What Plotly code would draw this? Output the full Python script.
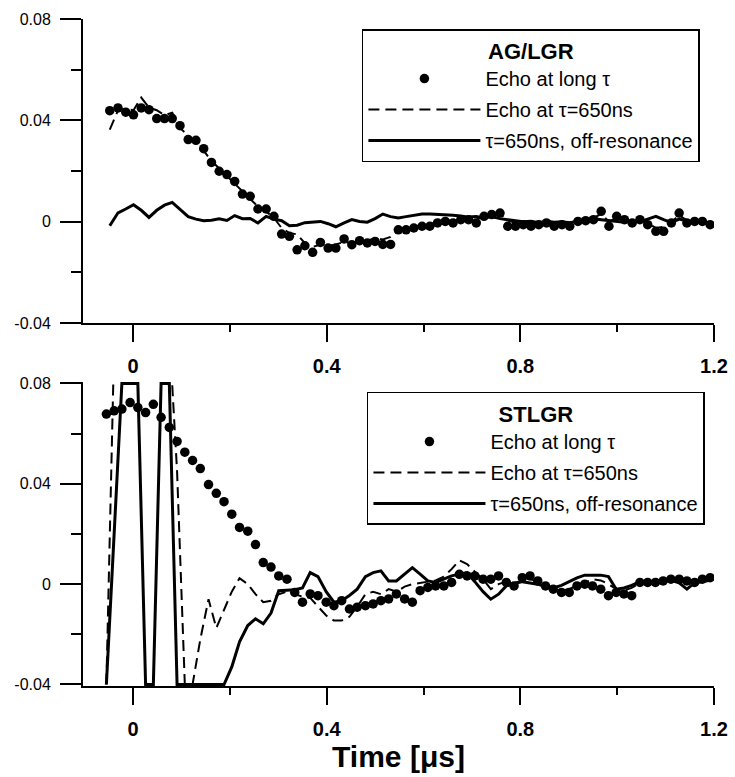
import plotly.graph_objects as go
from plotly.subplots import make_subplots

t_top = [-0.048, -0.031, -0.015, 0.001, 0.017, 0.033, 0.049, 0.065, 0.081, 0.097,
         0.114, 0.130, 0.146, 0.162, 0.178, 0.194, 0.210, 0.226, 0.242, 0.258,
         0.275, 0.291, 0.307, 0.323, 0.339, 0.355, 0.371, 0.387, 0.403, 0.419,
         0.436, 0.452, 0.468, 0.484, 0.500, 0.516, 0.532, 0.548, 0.564, 0.580,
         0.597, 0.613, 0.629, 0.645, 0.661, 0.677, 0.693, 0.709, 0.725, 0.741,
         0.758, 0.774, 0.790, 0.806, 0.822, 0.838, 0.854, 0.870, 0.886, 0.902,
         0.919, 0.935, 0.951, 0.967, 0.983, 0.999, 1.015, 1.031, 1.047, 1.063,
         1.080, 1.096, 1.112, 1.128, 1.144, 1.160, 1.176, 1.192]
ag_long = [0.0438, 0.0449, 0.0432, 0.0422, 0.0449, 0.0442, 0.0407, 0.0407, 0.0407, 0.0379,
           0.0324, 0.0321, 0.0288, 0.0234, 0.0199, 0.0186, 0.0159, 0.0109, 0.0100, 0.0050,
           0.0050, 0.0021, -0.0049, -0.0058, -0.0111, -0.0095, -0.0121, -0.0082, -0.0104, -0.0104,
           -0.0068, -0.0091, -0.0075, -0.0084, -0.0078, -0.0090, -0.0090, -0.0032, -0.0032, -0.0025,
           -0.0018, -0.0018, -0.0005, 0.0001, -0.0005, 0.0008, 0.0008, -0.0005, 0.0021, 0.0028,
           0.0034, -0.0018, -0.0018, -0.0012, -0.0018, -0.0012, -0.0005, -0.0018, -0.0012, -0.0018,
           0.0001, 0.0004, 0.0008, 0.0041, -0.0018, 0.0021, 0.0008, -0.0005, 0.0008, -0.0012,
           -0.0038, -0.0038, -0.0005, 0.0034, -0.0005, 0.0001, 0.0001, -0.0012]
ag_650 = [0.0363, 0.0440, 0.0445, 0.0440, 0.0490, 0.0450, 0.0440, 0.0420, 0.0430, 0.0370,
          0.0340, 0.0310, 0.0280, 0.0240, 0.0210, 0.0180, 0.0150, 0.0120, 0.0090, 0.0060,
          0.0040, 0.0015, -0.0025, -0.0045, -0.0050, -0.0085, -0.0100, -0.0090, -0.0095, -0.0090,
          -0.0080, -0.0085, -0.0080, -0.0075, -0.0065, -0.0070, -0.0060, -0.0030, -0.0025, -0.0020,
          -0.0015, -0.0010, 0.0000, 0.0005, 0.0000, 0.0010, 0.0015, 0.0010, 0.0020, 0.0025,
          0.0030, 0.0005, -0.0005, -0.0005, -0.0010, -0.0005, 0.0000, -0.0010, -0.0005, -0.0010,
          0.0005, 0.0010, 0.0015, 0.0030, 0.0000, 0.0015, 0.0005, 0.0000, 0.0005, -0.0005,
          -0.0025, -0.0020, 0.0000, 0.0025, 0.0005, 0.0000, 0.0005, -0.0005]
ag_off = [-0.0016, 0.0035, 0.0050, 0.0067, 0.0045, 0.0017, 0.0045, 0.0065, 0.0076, 0.0050,
          0.0020, 0.0010, 0.0004, 0.0006, 0.0011, 0.0005, 0.0024, 0.0012, 0.0013, -0.0005,
          0.0021, 0.0010, 0.0004, -0.0016, -0.0014, -0.0004, -0.0002, 0.0001, -0.0008, -0.0020,
          -0.0005, 0.0008, 0.0001, -0.0002, 0.0012, 0.0030, 0.0020, 0.0015, 0.0020, 0.0026,
          0.0030, 0.0030, 0.0029, 0.0028, 0.0025, 0.0022, 0.0018, 0.0020, 0.0015, 0.0020,
          0.0012, 0.0008, 0.0004, 0.0000, 0.0002, -0.0004, 0.0002, -0.0002, 0.0000, -0.0004,
          0.0002, 0.0006, 0.0012, 0.0008, 0.0004, 0.0000, -0.0002, 0.0002, 0.0000, 0.0010,
          0.0021, 0.0008, -0.0004, 0.0010, 0.0004, -0.0004, 0.0002, -0.0008]
t_bot = [-0.055, -0.039, -0.023, -0.006, 0.010, 0.026, 0.042, 0.058, 0.075, 0.091,
         0.107, 0.123, 0.139, 0.156, 0.172, 0.188, 0.204, 0.220, 0.237, 0.253,
         0.269, 0.285, 0.301, 0.318, 0.334, 0.350, 0.366, 0.382, 0.399, 0.415,
         0.431, 0.447, 0.463, 0.480, 0.496, 0.512, 0.528, 0.544, 0.561, 0.577,
         0.593, 0.609, 0.625, 0.642, 0.658, 0.674, 0.690, 0.706, 0.723, 0.739,
         0.755, 0.771, 0.787, 0.804, 0.820, 0.836, 0.852, 0.868, 0.885, 0.901,
         0.917, 0.933, 0.949, 0.966, 0.982, 0.998, 1.014, 1.030, 1.047, 1.063,
         1.079, 1.095, 1.111, 1.128, 1.144, 1.160, 1.176, 1.192]
st_long = [0.0678, 0.0691, 0.0698, 0.0724, 0.0704, 0.0684, 0.0717, 0.0665, 0.0625, 0.0569,
           0.0526, 0.0493, 0.0461, 0.0397, 0.0362, 0.0329, 0.0279, 0.0226, 0.0211, 0.0158,
           0.0086, 0.0068, 0.0033, 0.0020, -0.0033, -0.0072, -0.0039, -0.0046, -0.0072, -0.0086,
           -0.0066, -0.0099, -0.0092, -0.0086, -0.0079, -0.0066, -0.0059, -0.0039, -0.0059, -0.0072,
           -0.0026, -0.0013, -0.0007, -0.0007, 0.0007, 0.0039, 0.0033, 0.0033, 0.0020, 0.0020,
           0.0033, 0.0007, -0.0007, 0.0026, 0.0033, 0.0013, -0.0007, -0.0020, -0.0033, -0.0033,
           -0.0007, 0.0000, -0.0007, -0.0020, -0.0046, -0.0033, -0.0039, -0.0046, 0.0007, 0.0007,
           0.0007, 0.0013, 0.0020, 0.0020, 0.0013, 0.0007, 0.0020, 0.0026]
st_650 = [-0.0400, 0.0950, 0.1200, 0.1200, 0.1200, 0.1200, 0.1200, 0.1200, 0.1000, 0.0450,
          -0.0400, -0.0400, -0.0220, -0.0060, -0.0175, -0.0100, -0.0030, 0.0024, 0.0000, -0.0040,
          -0.0072, -0.0066, -0.0040, -0.0030, -0.0040, -0.0050, -0.0055, -0.0090, -0.0125, -0.0145,
          -0.0145, -0.0130, -0.0090, -0.0040, -0.0030, -0.0040, -0.0020, -0.0030, -0.0010, 0.0000,
          0.0005, 0.0010, 0.0015, 0.0030, 0.0060, 0.0095, 0.0080, 0.0050, 0.0020, -0.0020,
          0.0000, 0.0010, 0.0005, 0.0015, 0.0020, 0.0010, 0.0000, -0.0015, -0.0025, -0.0020,
          -0.0005, 0.0005, 0.0020, 0.0015, 0.0000, -0.0020, -0.0025, -0.0015, 0.0005, 0.0010,
          0.0010, 0.0015, 0.0015, 0.0010, 0.0005, 0.0010, 0.0015, 0.0015]
st_off = [-0.0400, 0.0200, 0.0800, 0.0800, 0.0800, -0.0400, -0.0400, 0.0800, 0.0800, -0.0400,
          -0.0400, -0.0400, -0.0400, -0.0400, -0.0400, -0.0400, -0.0330, -0.0230, -0.0165, -0.0138,
          -0.0158, -0.0115, -0.0026, -0.0024, -0.0022, -0.0015, 0.0046, 0.0030, -0.0030, -0.0072,
          -0.0066, -0.0045, -0.0020, 0.0030, 0.0046, 0.0053, 0.0013, 0.0013, 0.0040, 0.0066,
          0.0040, 0.0013, 0.0007, 0.0020, 0.0033, 0.0040, 0.0046, 0.0010, -0.0030, -0.0060,
          -0.0040, -0.0007, 0.0000, 0.0010, 0.0005, 0.0000, -0.0010, -0.0015, -0.0005, 0.0010,
          0.0025, 0.0036, 0.0036, 0.0036, 0.0030, -0.0020, -0.0015, -0.0005, 0.0010, 0.0005,
          0.0005, 0.0010, 0.0015, 0.0005, -0.0020, 0.0005, 0.0010, 0.0015]

panel_titles = ["AG/LGR", "STLGR"]
series_names = ["Echo at long \u03c4", "Echo at \u03c4=650ns", "\u03c4=650ns, off-resonance"]
x_ticks = [0, 0.4, 0.8, 1.2]
x_ticklabels = ["0", "0.4", "0.8", "1.2"]
x_minor = [0.2, 0.6, 1.0]
y_ticks = [-0.04, 0, 0.04, 0.08]
y_ticklabels = ["-0.04", "0", "0.04", "0.08"]
y_minor = [-0.02, 0.02, 0.06]

FONT = "Liberation Sans, Arial, Helvetica, sans-serif"
fig = make_subplots(rows=2, cols=1)

panels = [
    (t_top, ag_long, ag_650, ag_off, "legend"),
    (t_bot, st_long, st_650, st_off, "legend2"),
]
for r, (tt, yl, yd, ys, lg) in enumerate(panels, start=1):
    fig.add_trace(go.Scatter(x=tt, y=ys, mode="lines", name=series_names[2],
                             line=dict(color="black", width=3), legend=lg,
                             legendgroup=f"c{r}", legendrank=3), row=r, col=1)
    fig.add_trace(go.Scatter(x=tt, y=yd, mode="lines", name=series_names[1],
                             line=dict(color="black", width=2, dash="11px,6px"), legend=lg,
                             legendgroup=f"b{r}", legendrank=2), row=r, col=1)
    fig.add_trace(go.Scatter(x=tt, y=yl, mode="markers", name=series_names[0],
                             marker=dict(color="black", size=9.5, symbol="circle"), legend=lg,
                             legendgroup=f"a{r}", legendrank=1), row=r, col=1)

xax = dict(range=[-0.1033, 1.2], tickmode="array", tickvals=x_ticks, ticktext=x_ticklabels,
           ticks="outside", ticklen=17, tickwidth=2, tickcolor="black",
           showline=True, linecolor="black", linewidth=2, showgrid=False, zeroline=False,
           tickfont=dict(family=FONT, size=20, color="black", weight="bold"),
           ticklabelstandoff=7, automargin=False,
           minor=dict(tickmode="array", tickvals=x_minor, ticks="outside", ticklen=7,
                      tickwidth=2, tickcolor="black", showgrid=False))
yax = dict(tickmode="array", tickvals=y_ticks, ticktext=y_ticklabels,
           ticks="outside", ticklen=21, tickwidth=2, tickcolor="black",
           showline=True, linecolor="black", linewidth=2, showgrid=False, zeroline=False,
           tickfont=dict(family=FONT, size=16, color="black"),
           ticklabelstandoff=6, automargin=False,
           minor=dict(tickmode="array", tickvals=y_minor, ticks="outside", ticklen=10,
                      tickwidth=2, tickcolor="black", showgrid=False))

fig.update_layout(
    xaxis=dict(**xax, domain=[0, 1], anchor="y"),
    yaxis=dict(**yax, domain=[0.5442, 1.0], range=[-0.04, 0.08], anchor="x"),
    xaxis2=dict(**xax, domain=[0, 1], anchor="y2",
                title=dict(text="Time [\u03bcs]", standoff=6,
                           font=dict(family=FONT, size=30, color="black", weight="bold"))),
    yaxis2=dict(**yax, domain=[0.0, 0.4558], range=[-0.0406, 0.0806], anchor="x2"),
)

leg_common = dict(bordercolor="black", borderwidth=1.5, bgcolor="white",
                  font=dict(family=FONT, size=20, color="black"),
                  itemwidth=112, tracegroupgap=2, xanchor="left", yanchor="top",
                  traceorder="grouped")
fig.update_layout(
    legend=dict(**leg_common, x=0.442, y=0.985,
                title=dict(text=panel_titles[0], side="top center",
                           font=dict(family=FONT, size=22, color="black", weight="bold"))),
    legend2=dict(**leg_common, x=0.450, y=0.4408,
                 title=dict(text=panel_titles[1], side="top center",
                            font=dict(family=FONT, size=22, color="black", weight="bold"))),
)

fig.update_layout(width=735, height=777, margin=dict(l=83, r=21, t=19, b=91, autoexpand=False),
                  paper_bgcolor="white", plot_bgcolor="white", showlegend=True)

fig.write_html("out.html", config={"displayModeBar": False},
               post_script="document.body.style.margin='0';document.body.style.padding='0';")
